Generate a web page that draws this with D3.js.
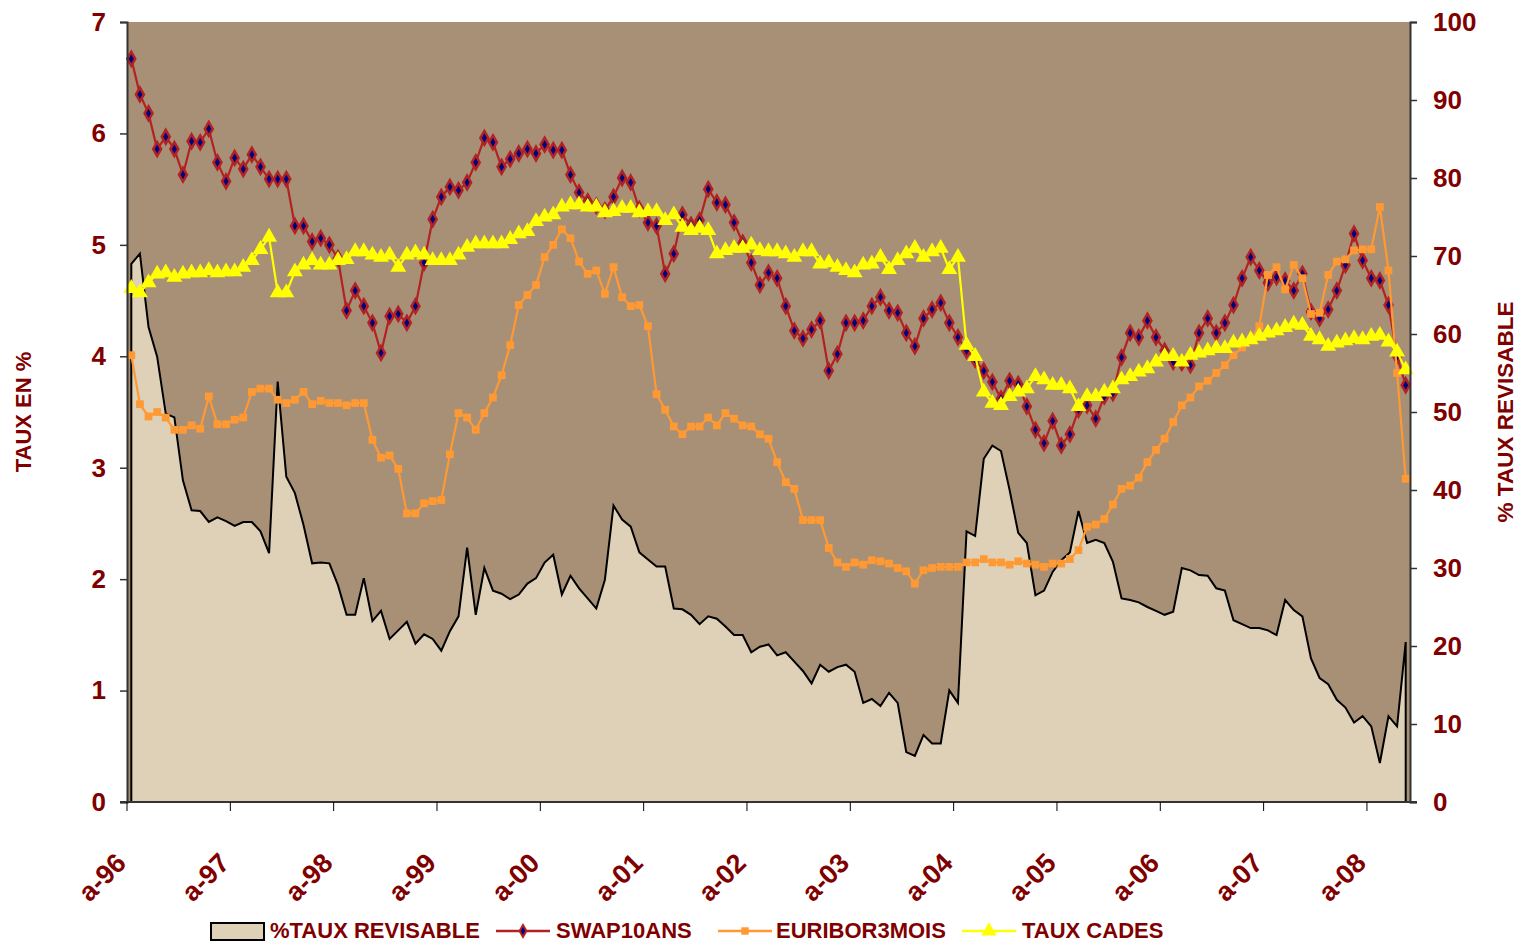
<!DOCTYPE html>
<html>
<head>
<meta charset="utf-8">
<script src="https://cdn.jsdelivr.net/npm/d3@7"></script>
<style>
  body { margin: 0; background: #fff; }
  svg { display: block; font-family: "Liberation Sans", Arial, sans-serif; font-weight: bold; }
</style>
</head>
<body>
<div id="chart"></div>
<script>
// monthly data, jan 1996 -> may 2008
const yearLabels = ["a-96", "a-97", "a-98", "a-99", "a-00", "a-01", "a-02", "a-03", "a-04", "a-05", "a-06", "a-07", "a-08"];
const leftTicks = [0, 1, 2, 3, 4, 5, 6, 7];
const rightTicks = [0, 10, 20, 30, 40, 50, 60, 70, 80, 90, 100];

const tauxRevisable = [
  69.0, 70.3, 60.9, 57.1, 49.8, 49.3, 41.2, 37.4, 37.3, 35.9,
  36.5, 36.0, 35.4, 35.9, 35.9, 34.7, 31.9, 53.9, 41.7, 39.6,
  35.5, 30.6, 30.7, 30.6, 27.8, 24.0, 24.0, 28.7, 23.2, 24.5,
  20.9, 22.0, 23.1, 20.3, 21.5, 20.9, 19.4, 21.9, 23.8, 32.6,
  24.0, 30.0, 27.1, 26.7, 26.0, 26.6, 28.0, 28.7, 30.7, 31.7,
  26.6, 29.0, 27.4, 26.1, 24.8, 28.5, 38.0, 36.2, 35.3, 32.0,
  31.1, 30.2, 30.2, 24.8, 24.7, 24.0, 22.8, 23.8, 23.5, 22.5,
  21.4, 21.4, 19.2, 19.9, 20.2, 18.8, 19.2, 18.0, 16.8, 15.2,
  17.6, 16.7, 17.3, 17.6, 16.7, 12.7, 13.2, 12.3, 14.0, 12.7,
  6.4, 5.9, 8.6, 7.5, 7.5, 14.3, 12.7, 34.7, 34.1, 44.0,
  45.7, 45.0, 40.0, 34.5, 33.2, 26.5, 27.1, 29.5, 31.0, 32.0,
  37.3, 33.2, 33.6, 33.2, 30.8, 26.1, 25.9, 25.6, 25.0, 24.5,
  24.0, 24.4, 30.0, 29.7, 29.1, 29.0, 27.4, 27.1, 23.3, 22.8,
  22.3, 22.3, 22.0, 21.4, 25.9, 24.6, 23.8, 18.4, 15.9, 15.1,
  13.1, 12.1, 10.2, 11.0, 9.7, 5.0, 11.0, 9.7, 20.5
];

const swap10ans = [
  6.67, 6.35, 6.18, 5.86, 5.97, 5.86, 5.63, 5.93, 5.92, 6.04,
  5.74, 5.57, 5.78, 5.68, 5.81, 5.70, 5.59, 5.59, 5.59, 5.17,
  5.17, 5.03, 5.06, 5.00, 4.88, 4.41, 4.59, 4.45, 4.30, 4.03,
  4.36, 4.38, 4.30, 4.45, 4.84, 5.23, 5.43, 5.52, 5.49, 5.56,
  5.74, 5.96, 5.92, 5.70, 5.77, 5.82, 5.86, 5.82, 5.90, 5.85,
  5.85, 5.63, 5.47, 5.39, 5.35, 5.31, 5.43, 5.60, 5.56, 5.32,
  5.20, 5.17, 4.74, 4.92, 5.27, 5.18, 5.22, 5.50, 5.38, 5.36,
  5.20, 5.02, 4.84, 4.64, 4.75, 4.70, 4.45, 4.23, 4.16, 4.24,
  4.32, 3.87, 4.02, 4.30, 4.30, 4.32, 4.45, 4.53, 4.41, 4.39,
  4.21, 4.09, 4.34, 4.42, 4.48, 4.30, 4.17, 4.05, 3.97, 3.87,
  3.77, 3.62, 3.78, 3.75, 3.55, 3.34, 3.22, 3.42, 3.20, 3.30,
  3.52, 3.56, 3.44, 3.64, 3.67, 3.99, 4.21, 4.17, 4.32, 4.17,
  4.05, 3.95, 3.94, 3.92, 4.21, 4.34, 4.21, 4.30, 4.46, 4.70,
  4.89, 4.77, 4.66, 4.71, 4.68, 4.59, 4.74, 4.40, 4.34, 4.42,
  4.59, 4.82, 5.10, 4.86, 4.70, 4.68, 4.46, 4.00, 3.74
];

const euribor3mois = [
  4.01, 3.57, 3.46, 3.50, 3.45, 3.34, 3.34, 3.38, 3.35, 3.64,
  3.39, 3.39, 3.43, 3.45, 3.68, 3.71, 3.71, 3.61, 3.58, 3.61,
  3.68, 3.57, 3.60, 3.58, 3.58, 3.56, 3.58, 3.58, 3.25, 3.09,
  3.11, 2.99, 2.59, 2.59, 2.68, 2.70, 2.71, 3.12, 3.49, 3.45,
  3.34, 3.49, 3.63, 3.83, 4.10, 4.46, 4.55, 4.64, 4.89, 5.00,
  5.14, 5.06, 4.85, 4.74, 4.77, 4.56, 4.80, 4.53, 4.45, 4.46,
  4.27, 3.66, 3.52, 3.37, 3.30, 3.37, 3.37, 3.45, 3.38, 3.49,
  3.44, 3.38, 3.37, 3.30, 3.26, 3.05, 2.87, 2.81, 2.53, 2.53,
  2.53, 2.28, 2.15, 2.11, 2.15, 2.13, 2.17, 2.16, 2.14, 2.10,
  2.07, 1.96, 2.08, 2.10, 2.11, 2.11, 2.11, 2.15, 2.15, 2.18,
  2.15, 2.15, 2.13, 2.16, 2.14, 2.13, 2.11, 2.14, 2.14, 2.18,
  2.26, 2.47, 2.49, 2.54, 2.67, 2.81, 2.84, 2.91, 3.05, 3.16,
  3.26, 3.41, 3.56, 3.63, 3.73, 3.78, 3.85, 3.92, 4.01, 4.08,
  4.15, 4.27, 4.73, 4.80, 4.60, 4.82, 4.70, 4.38, 4.39, 4.73,
  4.85, 4.87, 4.95, 4.96, 4.96, 5.34, 4.77, 3.85, 2.90
];

const tauxCades = [
  4.61, 4.57, 4.66, 4.74, 4.75, 4.71, 4.74, 4.75, 4.75, 4.77,
  4.75, 4.76, 4.76, 4.80, 4.86, 4.96, 5.07, 4.57, 4.57, 4.76,
  4.82, 4.86, 4.82, 4.82, 4.86, 4.87, 4.94, 4.94, 4.91, 4.89,
  4.91, 4.80, 4.91, 4.93, 4.91, 4.86, 4.86, 4.86, 4.91, 4.98,
  5.01, 5.01, 5.01, 5.01, 5.05, 5.10, 5.12, 5.21, 5.25, 5.27,
  5.34, 5.36, 5.36, 5.34, 5.34, 5.29, 5.30, 5.33, 5.33, 5.29,
  5.30, 5.30, 5.22, 5.27, 5.16, 5.13, 5.15, 5.13, 4.92, 4.95,
  4.97, 4.97, 5.00, 4.95, 4.94, 4.94, 4.92, 4.89, 4.94, 4.94,
  4.83, 4.84, 4.80, 4.77, 4.75, 4.82, 4.83, 4.89, 4.78, 4.86,
  4.92, 4.97, 4.89, 4.94, 4.97, 4.78, 4.89, 4.10, 4.00, 3.68,
  3.58, 3.56, 3.64, 3.68, 3.71, 3.82, 3.79, 3.74, 3.74, 3.71,
  3.55, 3.64, 3.64, 3.68, 3.71, 3.79, 3.82, 3.86, 3.89, 3.95,
  4.00, 4.00, 3.95, 4.01, 4.03, 4.05, 4.07, 4.07, 4.12, 4.13,
  4.15, 4.18, 4.21, 4.23, 4.26, 4.29, 4.28, 4.18, 4.15, 4.09,
  4.12, 4.14, 4.16, 4.15, 4.18, 4.19, 4.13, 4.04, 3.88
];

const textColor = "#800000";
const width = 1519, height = 943;
const plot = { left: 127, right: 1410, top: 22, bottom: 802 };

const svg = d3.select("#chart").append("svg")
  .attr("width", width)
  .attr("height", height);

const months = d3.range(tauxRevisable.length);

// Scales
const x = d3.scaleBand().domain(months).range([plot.left, plot.right]).padding(0);
const cx = (i) => x(i) + x.bandwidth() / 2;
const yLeft = d3.scaleLinear().domain([0, 7]).range([plot.bottom, plot.top]);
const yRight = d3.scaleLinear().domain([0, 100]).range([plot.bottom, plot.top]);

// plot background
svg.append("rect")
  .attr("x", plot.left).attr("y", plot.top)
  .attr("width", plot.right - plot.left).attr("height", plot.bottom - plot.top)
  .attr("fill", "#A89076");

// area (right axis)
const area = d3.area()
  .x((d, i) => cx(i))
  .y0(yRight(0))
  .y1((d) => yRight(d));

svg.append("path")
  .datum(tauxRevisable)
  .attr("d", area)
  .attr("fill", "#DED1B7")
  .attr("stroke", "#000")
  .attr("stroke-width", 2)
  .attr("stroke-linejoin", "miter");

// line series (left axis)
const line = d3.line().x((d, i) => cx(i)).y((d) => yLeft(d));

function drawSeries(data, color, symbol, size, fill, stroke, strokeWidth) {
  const g = svg.append("g");
  g.append("path")
    .datum(data)
    .attr("d", line)
    .attr("fill", "none")
    .attr("stroke", color)
    .attr("stroke-width", 2.2);
  g.selectAll("path.mark")
    .data(data)
    .enter()
    .append("path")
    .attr("class", "mark")
    .attr("transform", (d, i) => `translate(${cx(i)},${yLeft(d)})`)
    .attr("d", d3.symbol().type(symbol).size(size))
    .attr("fill", fill)
    .attr("stroke", stroke)
    .attr("stroke-width", strokeWidth);
}

drawSeries(swap10ans, "#B22222", d3.symbolDiamond, 55, "#000080", "#B22222", 2.5);
drawSeries(euribor3mois, "#FF9933", d3.symbolSquare, 60, "#FF9933", "none", 0);
drawSeries(tauxCades, "#FFFF00", d3.symbolTriangle, 110, "#FFFF00", "none", 0);

// Axes
const axisColor = "#333";

const leftAxis = svg.append("g")
  .attr("transform", `translate(${plot.left},0)`)
  .call(d3.axisLeft(yLeft).tickValues(leftTicks).tickSize(7).tickPadding(14).tickFormat(d3.format("d")));

const rightAxis = svg.append("g")
  .attr("transform", `translate(${plot.right},0)`)
  .call(d3.axisRight(yRight).tickValues(rightTicks).tickSize(7).tickPadding(16).tickFormat(d3.format("d")));

[leftAxis, rightAxis].forEach((a) => {
  a.select(".domain").attr("stroke", axisColor).attr("stroke-width", 2);
  a.selectAll(".tick line").attr("stroke", axisColor).attr("stroke-width", 1.5);
  a.selectAll("text")
    .attr("fill", textColor)
    .style("font-size", "26px")
    .style("font-weight", "bold")
    .style("font-family", "'Liberation Sans', Arial, sans-serif");
});

// bottom axis: ticks every 12 months at band boundaries
const yearStarts = months.filter((i) => i % 12 === 0);
const bottom = svg.append("g");
bottom.append("line")
  .attr("x1", plot.left - 7).attr("x2", plot.right + 7)
  .attr("y1", plot.bottom).attr("y2", plot.bottom)
  .attr("stroke", axisColor).attr("stroke-width", 2);
bottom.selectAll("line.tick")
  .data(yearStarts)
  .enter()
  .append("line")
  .attr("class", "tick")
  .attr("x1", (i) => x(i)).attr("x2", (i) => x(i))
  .attr("y1", plot.bottom).attr("y2", plot.bottom + 9)
  .attr("stroke", "#000").attr("stroke-width", 1);
bottom.selectAll("text")
  .data(yearStarts)
  .enter()
  .append("text")
  .attr("transform", (i) => `translate(${x(i) - 6},${plot.bottom + 56}) rotate(-45)`)
  .attr("text-anchor", "end")
  .attr("dy", "0.35em")
  .attr("fill", textColor)
  .style("font-size", "27px")
  .text((i, k) => yearLabels[k]);

// axis titles
svg.append("text")
  .attr("transform", `translate(31,${(plot.top + plot.bottom) / 2}) rotate(-90)`)
  .attr("text-anchor", "middle")
  .attr("fill", textColor)
  .style("font-size", "22px")
  .text("TAUX EN %");

svg.append("text")
  .attr("transform", `translate(1513,${(plot.top + plot.bottom) / 2}) rotate(-90)`)
  .attr("text-anchor", "middle")
  .attr("fill", textColor)
  .style("font-size", "22.5px")
  .text("% TAUX REVISABLE");

// Legend
const legend = svg.append("g").attr("transform", "translate(0,930)");
legend.append("rect")
  .attr("x", 211).attr("y", -7).attr("width", 53).attr("height", 17)
  .attr("fill", "#DED1B7").attr("stroke", "#000").attr("stroke-width", 2);
legend.append("text").attr("x", 270).attr("y", 7.5).attr("fill", textColor)
  .style("font-size", "22px").text("%TAUX REVISABLE");

const legendLines = [
  { x: 496, label: "SWAP10ANS", tx: 556, color: "#B22222", symbol: d3.symbolDiamond, size: 40, fill: "#000080", stroke: "#B22222", sw: 2 },
  { x: 718, label: "EURIBOR3MOIS", tx: 776, color: "#FF9933", symbol: d3.symbolSquare, size: 55, fill: "#FF9933", stroke: "none", sw: 0 },
  { x: 962, label: "TAUX CADES", tx: 1022, color: "#FFFF00", symbol: d3.symbolTriangle, size: 100, fill: "#FFFF00", stroke: "none", sw: 0 }
];
legendLines.forEach((d) => {
  legend.append("line")
    .attr("x1", d.x).attr("x2", d.x + 54).attr("y1", 1).attr("y2", 1)
    .attr("stroke", d.color).attr("stroke-width", 2.5);
  legend.append("path")
    .attr("transform", `translate(${d.x + 27},1)`)
    .attr("d", d3.symbol().type(d.symbol).size(d.size))
    .attr("fill", d.fill).attr("stroke", d.stroke).attr("stroke-width", d.sw);
  legend.append("text").attr("x", d.tx).attr("y", 7.5).attr("fill", textColor)
    .style("font-size", "22px").text(d.label);
});
</script>
</body>
</html>
